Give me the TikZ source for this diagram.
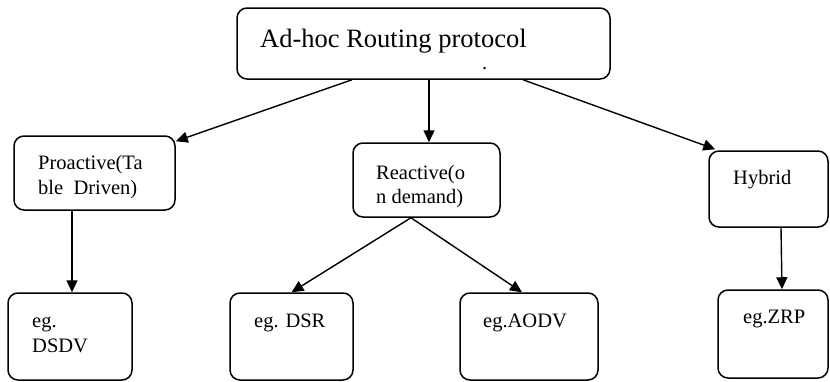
\documentclass[tikz,border=0pt]{standalone}
\usepackage{fontspec}
\setmainfont{Liberation Serif}
\usetikzlibrary{arrows.meta}
\begin{document}
\begin{tikzpicture}[x=1pt,y=-1pt,
  box/.style={draw,line width=1.5pt,rounded corners=10pt,inner sep=0pt},
  arr/.style={line width=1.4pt,-{Triangle[length=12pt,width=11pt]}},
  lbl/.style={anchor=base west,inner sep=0pt,font=\fontsize{20.5}{24}\selectfont},
  biglbl/.style={anchor=base west,inner sep=0pt,font=\fontsize{26.5}{30}\selectfont}]
\useasboundingbox (0,0) rectangle (830,381);
% boxes
\node[box,minimum width=373pt,minimum height=71pt] (top) at (423.5,43.5) {};
\node[box,minimum width=161pt,minimum height=74pt] (pro) at (94.5,173) {};
\node[box,minimum width=147pt,minimum height=74pt] (rea) at (426.5,180) {};
\node[box,minimum width=119pt,minimum height=76pt] (hyb) at (768.5,189) {};
\node[box,minimum width=124pt,minimum height=87pt] (dsdv) at (70,336.5) {};
\node[box,minimum width=123pt,minimum height=87pt] (dsr) at (291.5,336.5) {};
\node[box,minimum width=138pt,minimum height=87pt] (aodv) at (529,336.5) {};
\node[box,minimum width=110pt,minimum height=88pt] (zrp) at (773,334) {};
% texts
\node[biglbl] (ttop) at (260,47) {Ad-hoc Routing protocol};
\node[lbl] (tdot) at (482,69) {.};
\node[lbl] (tpro1) at (38,169) {Proactive(Ta};
\node[lbl] (tpro2) at (38,194) {ble\ \ Driven)};
\node[lbl] (trea1) at (376,179) {Reactive(o};
\node[lbl] (trea2) at (376,203) {n demand)};
\node[lbl] (thyb) at (733,184) {Hybrid};
\node[lbl] (tdsdv1) at (32,327) {eg.};
\node[lbl] (tdsdv2) at (32,352) {DSDV};
\node[lbl] (tdsr) at (254,327) {eg. DSR};
\node[lbl] (taodv) at (483,327) {eg.AODV};
\node[lbl] (tzrp) at (743,323) {eg.ZRP};
% connectors
\draw[arr] ([xshift=-71.5pt]top.south) -- ([yshift=-6pt]pro.north east);
\draw[arr] ([xshift=5.5pt]top.south) -- ([xshift=2.5pt]rea.north);
\draw[arr] ([xshift=99.5pt]top.south) -- ([xshift=7pt,yshift=1pt]hyb.north west);
\draw[arr] ([xshift=2pt]dsdv.north |- pro.south) -- ([xshift=2pt]dsdv.north);
\draw[arr] ([xshift=-15.5pt]rea.south) -- (dsr.north);
\draw[arr] ([xshift=-15.5pt]rea.south) -- ([xshift=-7pt]aodv.north);
\draw[arr] ([xshift=12.5pt]hyb.south) -- ([xshift=9pt]zrp.north);
\end{tikzpicture}
\end{document}
